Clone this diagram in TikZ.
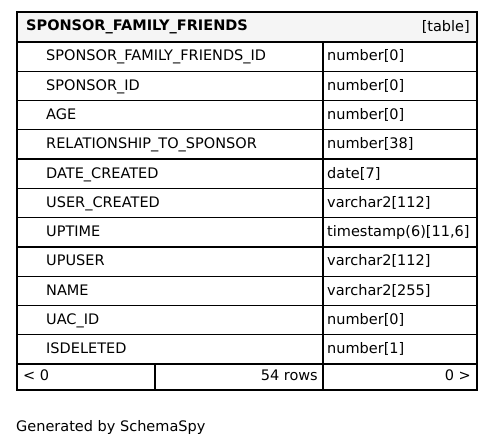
\documentclass[tikz,border=0pt]{standalone}
\usepackage{fontspec}
\setmainfont{DejaVu Sans}
\usetikzlibrary{positioning}

\begin{document}
\begin{tikzpicture}[
  x=1pt, y=-1pt,
  every node/.style={font=\fontsize{14.5}{16}\selectfont, inner sep=0pt},
  grid/.style={line width=1.3pt},
  frame/.style={line width=2.8pt},
  fieldname/.style={anchor=base west},
  fieldtype/.style={anchor=base west},
]
  \useasboundingbox (0,0) rectangle (495,447);

  % header
  \fill[black!4] (17,12) rectangle (477,42);
  \node[anchor=base west, font=\fontsize{14.5}{16}\selectfont\bfseries] (title) at (26,30.7) {SPONSOR\_FAMILY\_FRIENDS};
  \node[anchor=base east] (kind) at (470,31.5) {[table]};
  \draw[grid] (17,42) -- (477,42);

  % columns
  \foreach \fname/\ftype [count=\i] in {
      SPONSOR\_FAMILY\_FRIENDS\_ID/number[0],
      SPONSOR\_ID/number[0],
      AGE/number[0],
      RELATIONSHIP\_TO\_SPONSOR/number[38],
      DATE\_CREATED/date[7],
      USER\_CREATED/varchar2[112],
      UPTIME/timestamp(6)[11{,}6],
      UPUSER/varchar2[112],
      NAME/varchar2[255],
      UAC\_ID/number[0],
      ISDELETED/number[1]} {
    \pgfmathsetmacro\ybase{42+\i*29.27-10.3}
    \pgfmathsetmacro\ybot{42+\i*29.27}
    \node[fieldname] (col\i) at (46,\ybase) {\fname};
    \node[fieldtype] (type\i) at (327,\ybase) {\ftype};
    \draw[grid] (17,\ybot) -- (477,\ybot);
  }
  \draw[grid] (323,42) -- (323,390);

  % footer
  \draw[grid] (155,364) -- (155,390);
  \node[anchor=base west] (prev) at (23,380.5) {< 0};
  \node[anchor=base east] (rows) at (318,380.5) {54 rows};
  \node[anchor=base east] (next) at (471,380.5) {0 >};

  \draw[frame] (17,12) rectangle (477,390);

  \node[anchor=base west] (credit) at (16,431.5) {Generated by SchemaSpy};
\end{tikzpicture}
\end{document}
